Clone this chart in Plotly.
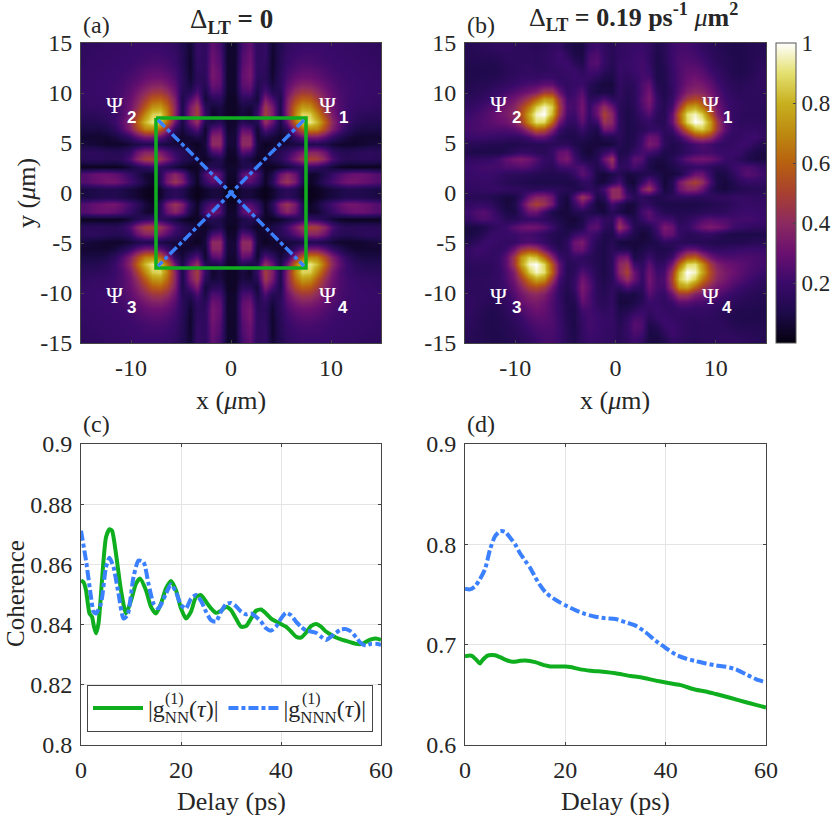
import numpy as np
import plotly.graph_objects as go

W, H = 831, 815
SERIF = "Liberation Serif"
TXT = "#262626"
GREEN = "#0fae1f"
BLUE = "#3a80ff"
DASHDOT = "10px,3px,4px,3px"

# upper right quadrant of each map, rows from the top edge down to y=0, columns from x=0 to the right edge
quad_a = [
    [.05, .22, .28, .16, .18, .06, .12, .17, .19, .20, .20, .20, .20, .19, .19, .18, .18, .17, .17, .16],
    [.05, .24, .30, .16, .18, .05, .13, .18, .20, .21, .21, .21, .20, .20, .19, .19, .18, .18, .17, .17],
    [.05, .25, .31, .16, .17, .05, .13, .19, .22, .23, .23, .22, .21, .20, .20, .19, .19, .18, .18, .17],
    [.05, .27, .33, .16, .16, .05, .14, .21, .24, .26, .26, .25, .23, .21, .20, .20, .19, .19, .18, .18],
    [.05, .28, .33, .15, .15, .06, .15, .23, .28, .30, .30, .28, .25, .23, .21, .20, .20, .19, .19, .18],
    [.05, .27, .30, .13, .17, .08, .15, .26, .33, .37, .36, .33, .28, .25, .22, .21, .20, .20, .19, .19],
    [.05, .22, .24, .09, .24, .13, .13, .30, .42, .47, .46, .40, .33, .27, .23, .21, .20, .20, .19, .19],
    [.04, .15, .14, .07, .35, .24, .10, .35, .52, .60, .58, .48, .37, .29, .24, .21, .20, .19, .19, .18],
    [.04, .09, .07, .14, .46, .34, .10, .38, .62, .75, .72, .58, .42, .31, .24, .21, .19, .18, .18, .17],
    [.04, .08, .05, .18, .48, .36, .10, .38, .68, .88, .86, .70, .50, .34, .24, .20, .17, .16, .15, .15],
    [.05, .14, .10, .12, .42, .30, .09, .30, .62, .86, .92, .82, .60, .40, .27, .20, .15, .13, .12, .12],
    [.06, .28, .25, .05, .26, .18, .07, .15, .40, .60, .70, .68, .52, .36, .24, .16, .11, .09, .09, .09],
    [.07, .38, .38, .06, .10, .07, .05, .07, .18, .28, .34, .34, .27, .18, .12, .08, .06, .06, .06, .06],
    [.07, .40, .40, .08, .03, .05, .07, .07, .08, .10, .12, .12, .10, .07, .05, .05, .05, .06, .07, .08],
    [.05, .26, .22, .06, .05, .09, .14, .18, .26, .34, .38, .38, .30, .18, .14, .13, .14, .15, .16, .15],
    [.04, .12, .08, .04, .07, .10, .14, .22, .34, .44, .50, .48, .38, .24, .16, .14, .14, .15, .15, .14],
    [.05, .10, .13, .10, .04, .03, .05, .08, .12, .16, .18, .16, .12, .07, .04, .03, .03, .03, .03, .03],
    [.05, .26, .33, .24, .04, .10, .30, .38, .30, .14, .05, .06, .12, .18, .24, .28, .30, .30, .28, .25],
    [.04, .24, .26, .18, .04, .14, .36, .44, .34, .14, .04, .08, .16, .22, .28, .32, .32, .30, .28, .25],
    [.02, .08, .08, .05, .02, .05, .12, .15, .12, .05, .02, .03, .06, .08, .10, .12, .12, .11, .10, .09],
]
quad_b = [
    [.17, .18, .19, .20, .17, .11, .14, .20, .22, .22, .20, .17, .15, .13, .12, .11, .11, .12, .13, .13],
    [.17, .18, .20, .21, .17, .10, .14, .20, .23, .23, .22, .19, .16, .14, .13, .11, .11, .12, .13, .14],
    [.18, .19, .20, .22, .18, .10, .13, .20, .24, .25, .24, .22, .18, .15, .13, .12, .11, .12, .14, .15],
    [.18, .18, .20, .22, .19, .10, .12, .19, .24, .27, .27, .25, .20, .17, .14, .12, .11, .12, .14, .16],
    [.18, .16, .18, .22, .22, .10, .12, .18, .24, .29, .31, .28, .24, .19, .16, .13, .12, .13, .15, .17],
    [.17, .14, .16, .24, .28, .12, .11, .18, .24, .31, .34, .33, .28, .22, .17, .15, .14, .15, .16, .17],
    [.17, .13, .15, .24, .32, .15, .11, .17, .26, .36, .40, .38, .32, .25, .19, .16, .15, .16, .16, .16],
    [.16, .12, .15, .26, .34, .18, .12, .18, .32, .48, .54, .50, .38, .28, .21, .18, .16, .16, .16, .16],
    [.15, .11, .14, .24, .31, .17, .13, .22, .46, .72, .78, .66, .48, .32, .23, .18, .17, .16, .16, .15],
    [.15, .10, .13, .20, .25, .15, .13, .28, .60, .90, .96, .86, .60, .36, .24, .18, .16, .15, .15, .14],
    [.16, .10, .12, .16, .18, .14, .14, .28, .56, .88, 1.0, .96, .76, .46, .27, .19, .16, .16, .16, .15],
    [.16, .10, .12, .14, .17, .18, .15, .20, .38, .62, .82, .86, .72, .46, .27, .19, .17, .18, .18, .17],
    [.15, .10, .12, .20, .30, .28, .15, .13, .20, .32, .46, .50, .44, .30, .20, .17, .18, .20, .21, .18],
    [.13, .10, .13, .22, .34, .30, .16, .11, .13, .18, .22, .24, .22, .18, .17, .18, .20, .20, .16, .12],
    [.11, .11, .18, .22, .22, .18, .11, .11, .13, .17, .20, .22, .22, .20, .19, .20, .19, .14, .10, .09],
    [.13, .16, .27, .25, .12, .09, .09, .13, .20, .27, .31, .32, .30, .26, .20, .18, .15, .11, .09, .09],
    [.16, .17, .22, .18, .10, .07, .08, .10, .13, .16, .18, .18, .16, .13, .14, .19, .22, .24, .22, .18],
    [.14, .08, .09, .11, .13, .11, .08, .08, .10, .20, .30, .30, .18, .09, .10, .15, .22, .26, .24, .21],
    [.22, .08, .07, .18, .30, .18, .07, .12, .32, .44, .50, .42, .24, .10, .08, .11, .16, .18, .18, .17],
    [.40, .14, .10, .34, .44, .24, .08, .12, .30, .38, .38, .30, .16, .09, .08, .10, .12, .13, .14, .14],
]
grid_pos = [.375, 1.125, 1.875, 2.625, 3.375, 4.125, 4.875, 5.625, 6.375, 7.125, 7.875, 8.625, 9.375, 10.125, 10.875,
            11.625, 12.375, 13.125, 13.875, 14.625]

square_x = [-7.5, 7.5, 7.5, -7.5, -7.5]
square_y = [7.5, 7.5, -7.5, -7.5, 7.5]
diag1_x = [7.3, -7.3]
diag1_y = [7.3, -7.3]
diag2_x = [-7.3, 7.3]
diag2_y = [7.3, -7.3]

t_c_nn = [0, .5, 1, 1.7, 2.2, 2.6, 3, 3.5, 4, 4.5, 5, 5.7, 6.2, 7, 8, 9, 10, 11, 11.8, 13, 14, 15, 16, 17, 18, 19, 20,
          21, 22, 23, 24, 25, 26, 27, 28, 29, 30, 31, 32, 33, 34, 35, 36, 37, 38, 39, 40, 41, 42, 43, 44, 45, 46, 47,
          48, 49, 50, 51, 52, 53, 54, 55, 56, 57, 58, 59, 60]
c_nn = [.8547, .8541, .8514, .8437, .8426, .8393, .8371, .8404, .8503, .8613, .869, .8717, .8712, .8635, .8514, .8437,
        .848, .8536, .8553, .8514, .8459, .8437, .847, .852, .8545, .8514, .8454, .842, .8443, .8492, .8498, .8476,
        .8454, .8439, .8446, .8459, .8448, .842, .8393, .8395, .842, .8446, .845, .8437, .842, .841, .8402, .8393,
        .8377, .836, .8357, .8373, .8395, .8402, .8393, .8377, .8366, .8357, .8351, .8346, .8341, .8336, .8335, .8343,
        .8351, .8354, .8349]
t_c_nnn = [0, 1, 2, 2.5, 3, 4, 5, 5.7, 6.5, 7.5, 8.5, 9.3, 10.5, 11.5, 12.5, 13.5, 14.5, 15.5, 17, 18, 19, 20, 21, 22,
           23, 24, 25, 26, 27, 28, 29, 30, 31, 32, 33, 34, 35, 36, 37, 38, 39, 40, 41, 42, 43, 44, 45, 46, 47, 48, 49,
           50, 51, 52, 53, 54, 55, 56, 57, 58, 59, 60]
c_nnn = [.8712, .8613, .8492, .8443, .8437, .847, .8591, .8622, .8591, .8503, .842, .8431, .8558, .8613, .8608, .8536,
         .847, .8454, .8503, .8534, .8508, .8465, .8454, .8486, .8498, .8479, .8443, .8415, .841, .8443, .8468, .8472,
         .8461, .8443, .8434, .8437, .8426, .841, .8388, .838, .8393, .842, .8439, .8431, .841, .8393, .838, .8377,
         .8373, .836, .8349, .836, .8373, .8384, .8385, .8377, .8358, .8338, .833, .8336, .8336, .8333]

t_d_nn = [0, 1, 1.5, 2.5, 3, 3.5, 4.5, 6, 7, 8, 9.5, 11, 12, 14, 16, 17, 20, 21, 23, 25, 28, 30, 33, 35, 38, 40, 43, 46,
          48, 50, 53, 56, 58, 60]
d_nn = [.6885, .6891, .6885, .6836, .6813, .6846, .6891, .6895, .6875, .6852, .6829, .6839, .6842, .6826, .6793, .6783,
        .6783, .6777, .6754, .6741, .6728, .6715, .6688, .6675, .6642, .6623, .6597, .655, .6534, .6508, .6468, .6426,
        .64, .6374]
t_d_nnn = [0, 1, 2, 3, 4, 5, 6, 7, 8, 9, 10, 11, 12, 13, 14, 15, 16, 17, 18, 19, 20, 22, 24, 26, 28, 30, 32, 34, 36, 38,
           40, 42, 44, 46, 48, 50, 52, 54, 56, 58, 60]
d_nnn = [.7557, .7551, .758, .7655, .7754, .7951, .8082, .8131, .8125, .8066, .8, .7908, .7836, .7764, .7672, .759,
         .7524, .7482, .7449, .7419, .7393, .7344, .7305, .7278, .7262, .7255, .7223, .719, .7124, .7039, .6967, .6901,
         .6862, .6836, .6813, .6793, .678, .6754, .6705, .6656, .6623]

colorscale = [
    [0, "#05010f"], [.1, "#1d0a4a"], [.2, "#3a0a6a"], [.3, "#6a1070"], [.4, "#8c2a60"],
    [.5, "#a84030"], [.6, "#b86010"], [.7, "#bd8a10"], [.8, "#c8b020"], [.9, "#e4e070"], [1, "#ffffff"],
]

pos = np.array(grid_pos)
axis_x = np.concatenate([-pos[::-1], pos])
axis_y = axis_x[::-1]

qa = np.array(quad_a)
map_a = np.vstack([np.hstack([np.fliplr(qa), qa]), np.hstack([np.flipud(np.fliplr(qa)), np.flipud(qa)])])
qb = np.array(quad_b)
map_b = np.vstack([np.hstack([np.rot90(qb, 1), qb]), np.hstack([np.rot90(qb, 2), np.rot90(qb, 3)])])


def dom_x(a, b):
    return [a / W, b / W]


def dom_y(top, bottom):
    return [1 - bottom / H, 1 - top / H]


fig = go.Figure()

fig.add_trace(go.Heatmap(z=map_a, x=axis_x, y=axis_y, colorscale=colorscale, zmin=0, zmax=1, zsmooth="best",
                         showscale=False, xaxis="x", yaxis="y"))
fig.add_trace(go.Heatmap(z=map_b, x=axis_x, y=axis_y, colorscale=colorscale, zmin=0, zmax=1, zsmooth="best",
                         xaxis="x2", yaxis="y2",
                         colorbar=dict(x=776 / W, xanchor="left", xpad=0, thickness=20, thicknessmode="pixels",
                                       len=300, lenmode="pixels", y=1 - 193 / H, yanchor="middle", ypad=0,
                                       outlinecolor="#555555", outlinewidth=1, tickvals=[.2, .4, .6, .8, 1],
                                       ticktext=["0.2", "0.4", "0.6", "0.8", "1"], ticks="inside", ticklen=3,
                                       tickcolor="#444444",
                                       tickfont=dict(family=SERIF, size=23, color=TXT))))

# square and diagonals on panel (a)
fig.add_trace(go.Scatter(x=square_x, y=square_y, mode="lines", line=dict(color=GREEN, width=3.5), showlegend=False))
fig.add_trace(go.Scatter(x=diag1_x, y=diag1_y, mode="lines", line=dict(color=BLUE, width=3.5, dash=DASHDOT),
                         showlegend=False))
fig.add_trace(go.Scatter(x=diag2_x, y=diag2_y, mode="lines", line=dict(color=BLUE, width=3.5, dash=DASHDOT),
                         showlegend=False))

fig.add_trace(go.Scatter(x=t_c_nn, y=c_nn, mode="lines", name="|g<sub>NN</sub>(<i>τ</i>)|", xaxis="x3", yaxis="y3",
                         line=dict(color=GREEN, width=4, shape="spline", smoothing=.6)))
fig.add_trace(go.Scatter(x=t_c_nnn, y=c_nnn, mode="lines", name="|g<sub>NNN</sub>(<i>τ</i>)|", xaxis="x3", yaxis="y3",
                         line=dict(color=BLUE, width=4, dash=DASHDOT, shape="spline", smoothing=.6)))
fig.add_trace(go.Scatter(x=t_d_nn, y=d_nn, mode="lines", xaxis="x4", yaxis="y4", showlegend=False,
                         line=dict(color=GREEN, width=4, shape="spline", smoothing=.6)))
fig.add_trace(go.Scatter(x=t_d_nnn, y=d_nnn, mode="lines", xaxis="x4", yaxis="y4", showlegend=False,
                         line=dict(color=BLUE, width=4, dash=DASHDOT, shape="spline", smoothing=.6)))

axis_style = dict(showline=True, linecolor="#444444", linewidth=1, mirror="ticks", ticks="inside", ticklen=3,
                  tickcolor="#444444", tickfont=dict(family=SERIF, size=24, color=TXT), zeroline=False,
                  ticklabelstandoff=3)
map_x = dict(range=[-15, 15], tickvals=[-10, 0, 10], ticktext=["-10", "0", "10"], showgrid=False, **axis_style)
map_y = dict(range=[-15, 15], tickvals=[-15, -10, -5, 0, 5, 10, 15],
             ticktext=["-15", "-10", "-5", "0", "5", "10", "15"], showgrid=False, **axis_style)
line_x = dict(range=[0, 60], tickvals=[0, 20, 40, 60], showgrid=True, gridcolor="#e4e4e4", gridwidth=1, **axis_style)

fig.update_layout(
    width=W, height=H, autosize=False, margin=dict(l=0, r=0, t=0, b=0, autoexpand=False),
    paper_bgcolor="white", plot_bgcolor="white",
    font=dict(family=SERIF, color=TXT),
    xaxis=dict(domain=dom_x(81, 381), anchor="y", **map_x),
    yaxis=dict(domain=dom_y(43, 343), anchor="x", **map_y),
    xaxis2=dict(domain=dom_x(465, 766), anchor="y2", **map_x),
    yaxis2=dict(domain=dom_y(43, 343), anchor="x2", **map_y),
    xaxis3=dict(domain=dom_x(81, 381), anchor="y3", **line_x),
    yaxis3=dict(domain=dom_y(444, 745), anchor="x3", range=[.8, .9], tickvals=[.8, .82, .84, .86, .88, .9],
                ticktext=["0.8", "0.82", "0.84", "0.86", "0.88", "0.9"], showgrid=True, gridcolor="#e4e4e4",
                **axis_style),
    xaxis4=dict(domain=dom_x(465, 766), anchor="y4", **line_x),
    yaxis4=dict(domain=dom_y(444, 745), anchor="x4", range=[.6, .9], tickvals=[.6, .7, .8, .9],
                ticktext=["0.6", "0.7", "0.8", "0.9"], showgrid=True, gridcolor="#e4e4e4", **axis_style),
    legend=dict(x=87 / W, y=1 - 685 / H, xanchor="left", yanchor="top", orientation="h", bgcolor="white",
                bordercolor="#444444", borderwidth=1, font=dict(family=SERIF, size=24, color=TXT),
                itemwidth=50, tracegroupgap=0),
)


def label(px, py, text, size=24, color=TXT, family=SERIF, angle=0, xanchor="center"):
    fig.add_annotation(x=px / W, y=1 - py / H, xref="paper", yref="paper", text=text, showarrow=False,
                       xanchor=xanchor, yanchor="middle", textangle=angle,
                       font=dict(family=family, size=size, color=color))


label(81, 25, "(a)", xanchor="left")
label(465, 25, "(b)", xanchor="left")
label(81, 424, "(c)", xanchor="left")
label(465, 424, "(d)", xanchor="left")
label(231, 21, "Δ<b><sub>LT</sub> = 0</b>", size=27)
label(633, 17, "Δ<b><sub>LT</sub> = 0.19 ps<sup>-1</sup></b> <i>μ</i><b>m<sup>2</sup></b>", size=26)
label(231, 400, "x (<i>μ</i>m)", size=26)
label(615, 400, "x (<i>μ</i>m)", size=26)
label(231, 801, "Delay (ps)", size=26)
label(615, 801, "Delay (ps)", size=26)
label(27, 193, "y (<i>μ</i>m)", size=26, angle=-90)
label(15, 594, "Coherence", size=25, angle=-90)

# stacked (1) superscripts for the legend entries
label(174, 699, "(1)", size=16)
label(311, 699, "(1)", size=16)

psi_a = [(327, 105, 343, 117, "1"), (115, 105, 131, 117, "2"), (115, 295, 131, 307, "3"), (327, 295, 343, 307, "4")]
psi_b = [(710, 104, 727, 117, "1"), (499, 104, 516, 117, "2"), (499, 296, 516, 307, "3"), (710, 296, 727, 307, "4")]
for x0, y0, x1, y1, n in psi_a + psi_b:
    label(x0, y0, "Ψ", size=23, color="white")
    label(x1, y1, f"<b>{n}</b>", size=17, color="white", family="Liberation Sans")

# the page's default body margin would push the figure 8px off
fig.write_html("out.html", config={"displayModeBar": False}, post_script="document.body.style.margin='0';")
